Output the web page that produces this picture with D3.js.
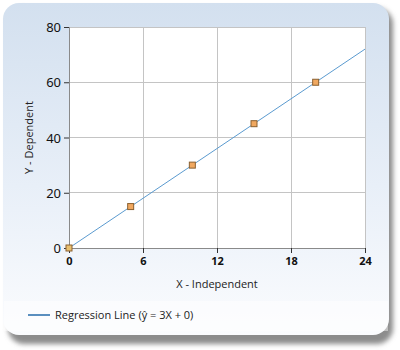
<!DOCTYPE html>
<html>
<head>
<meta charset="utf-8">
<script src="https://cdn.jsdelivr.net/npm/d3@7"></script>
<style>
  body { margin: 0; background: #ffffff; }
  svg { display: block; font-family: "Open Sans", "Noto Sans", sans-serif; }
</style>
</head>
<body>
<svg id="chart" width="400" height="350"></svg>
<script>
// observed points and the regression line
const xValues = [0, 5, 10, 15, 20];
const yValues = [0, 15, 30, 45, 60];
const slope = 3;
const intercept = 0;
const lineRange = [0, 24];
const xTicks = [0, 6, 12, 18, 24];
const yTicks = [0, 20, 40, 60, 80];
const legendLabel = 'Regression Line (ŷ = 3X + 0)';

const svg = d3.select('#chart');
const defs = svg.append('defs');

const bg = defs.append('linearGradient').attr('id', 'bg')
  .attr('x1', 0).attr('y1', 0).attr('x2', 0).attr('y2', 1);
bg.append('stop').attr('offset', '0%').attr('stop-color', '#d3e0ef');
bg.append('stop').attr('offset', '55%').attr('stop-color', '#e8eff8');
bg.append('stop').attr('offset', '100%').attr('stop-color', '#fbfcfe');

const blur = defs.append('filter').attr('id', 'shadow')
  .attr('x', '-10%').attr('y', '-10%').attr('width', '120%').attr('height', '120%');
blur.append('feGaussianBlur').attr('stdDeviation', 2.5);

// panel with shadow
svg.append('rect')
  .attr('x', 8).attr('y', 8).attr('width', 385).attr('height', 336)
  .attr('rx', 16).attr('fill', '#8c8c8c').attr('filter', 'url(#shadow)');
svg.append('rect')
  .attr('x', 3).attr('y', 3).attr('width', 386).attr('height', 332)
  .attr('rx', 16).attr('fill', 'url(#bg)');

// legend strip
svg.append('rect')
  .attr('x', 4).attr('y', 301).attr('width', 384).attr('height', 30)
  .attr('fill', '#ffffff').attr('opacity', 0.45);

const margin = { top: 27, left: 69, right: 365, bottom: 248 };

const x = d3.scaleLinear().domain([0, 24]).range([margin.left, margin.right]);
const y = d3.scaleLinear().domain([0, 80]).range([margin.bottom, margin.top]);

// plot area
svg.append('rect')
  .attr('x', margin.left).attr('y', margin.top)
  .attr('width', margin.right - margin.left)
  .attr('height', margin.bottom - margin.top)
  .attr('fill', '#ffffff');

// gridlines
svg.append('g').selectAll('line').data(xTicks.slice(1)).enter().append('line')
  .attr('x1', d => x(d)).attr('x2', d => x(d))
  .attr('y1', margin.top).attr('y2', margin.bottom)
  .attr('stroke', '#c4c4c4').attr('stroke-width', 1).attr('shape-rendering', 'crispEdges');
svg.append('g').selectAll('line').data(yTicks.slice(1)).enter().append('line')
  .attr('x1', margin.left).attr('x2', margin.right)
  .attr('y1', d => y(d)).attr('y2', d => y(d))
  .attr('stroke', '#c4c4c4').attr('stroke-width', 1).attr('shape-rendering', 'crispEdges');

// axes
const xAxis = svg.append('g')
  .attr('transform', `translate(0,${margin.bottom})`)
  .call(d3.axisBottom(x).tickValues(xTicks).tickSize(5).tickPadding(4));
const yAxis = svg.append('g')
  .attr('transform', `translate(${margin.left},0)`)
  .call(d3.axisLeft(y).tickValues(yTicks).tickSize(5).tickPadding(3));

[xAxis, yAxis].forEach(g => {
  g.select('.domain').attr('stroke', '#8a8a8a');
  g.selectAll('.tick line').attr('stroke', '#333333');
  g.selectAll('text').attr('fill', '#111111').style('font-family', '"Noto Sans", sans-serif');
});
xAxis.selectAll('text').style('font-size', '11px').style('font-weight', 'bold');
yAxis.selectAll('text').style('font-size', '13px').attr('dy', '0.36em');

// axis titles
svg.append('text')
  .attr('x', (margin.left + margin.right) / 2).attr('y', 288)
  .attr('text-anchor', 'middle').attr('font-size', 11).attr('fill', '#222')
  .text('X - Independent');
svg.append('text')
  .attr('transform', `translate(33,${(margin.top + margin.bottom) / 2}) rotate(-90)`)
  .attr('text-anchor', 'middle').attr('font-size', 11).attr('fill', '#222')
  .text('Y - Dependent');

// regression line
svg.append('line')
  .attr('x1', x(lineRange[0])).attr('y1', y(slope * lineRange[0] + intercept))
  .attr('x2', x(lineRange[1])).attr('y2', y(slope * lineRange[1] + intercept))
  .attr('stroke', '#5b9bd0').attr('stroke-width', 1);

// observed points
const points = xValues.map((d, i) => ({ x: d, y: yValues[i] }));
svg.append('g').selectAll('rect').data(points).enter().append('rect')
  .attr('x', d => x(d.x) - 3).attr('y', d => y(d.y) - 3)
  .attr('width', 6).attr('height', 6)
  .attr('fill', (d, i) => i === 0 ? '#e8c070' : '#f0a860')
  .attr('stroke', '#8a6030').attr('stroke-width', 1);

// legend
svg.append('line')
  .attr('x1', 28).attr('x2', 50).attr('y1', 315).attr('y2', 315)
  .attr('stroke', '#5a8fbf').attr('stroke-width', 2);
svg.append('text')
  .attr('x', 55).attr('y', 319).attr('font-size', 11).attr('fill', '#222')
  .text(legendLabel);
</script>
</body>
</html>
